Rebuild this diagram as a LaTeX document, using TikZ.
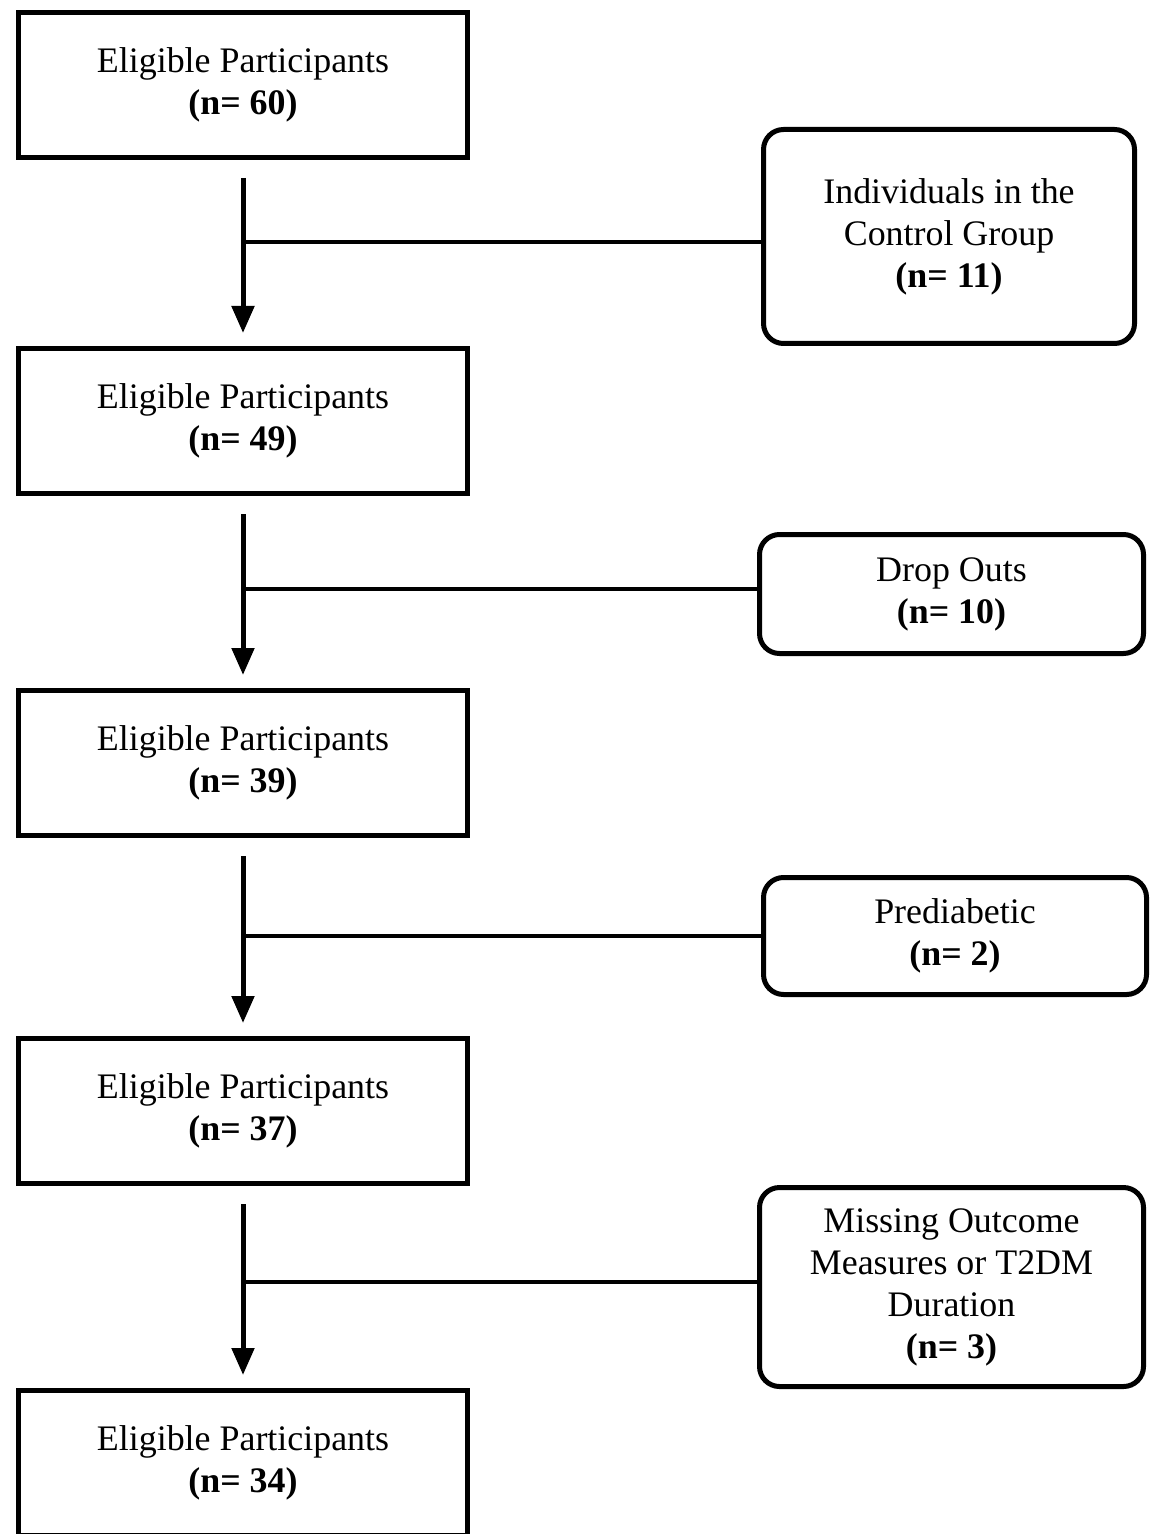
\documentclass[tikz,border=0pt]{standalone}
\usepackage{fontspec}
\setmainfont{Liberation Serif}
\usetikzlibrary{arrows.meta}

\begin{document}
\begin{tikzpicture}[x=0.5pt,y=-0.5pt,
  every node/.style={align=center,font=\fontsize{17.95pt}{21pt}\selectfont},
  elig/.style={draw,line width=2.5pt,minimum width=224.5pt,minimum height=72.5pt},
  excl/.style={draw,line width=2.5pt,rounded corners=10pt},
  flow/.style={line width=2.5pt,-{Triangle[length=13.5pt,width=11pt]},shorten <=9pt,shorten >=6.5pt},
  side/.style={line width=2pt}]
\useasboundingbox (0,0) rectangle (1154,1534);
% main column
\node[elig] (e1) at (243,85) {Eligible Participants\\\textbf{(n= 60)}};
\node[elig] (e2) at (243,421) {Eligible Participants\\\textbf{(n= 49)}};
\node[elig] (e3) at (243,763) {Eligible Participants\\\textbf{(n= 39)}};
\node[elig] (e4) at (243,1111) {Eligible Participants\\\textbf{(n= 37)}};
\node[elig] (e5) at (243,1463) {Eligible Participants\\\textbf{(n= 34)}};
% excluded
\node[excl,minimum width=185.5pt,minimum height=107pt] (r1) at (949,236.5) {Individuals in the\\Control Group\\\textbf{(n= 11)}};
\node[excl,minimum width=192pt,minimum height=59.5pt] (r2) at (951.5,594) {Drop Outs\\\textbf{(n= 10)}};
\node[excl,minimum width=191.5pt,minimum height=58.5pt] (r3) at (955,936) {Prediabetic\\\textbf{(n= 2)}};
\node[excl,minimum width=192pt,minimum height=99.5pt] (r4) at (951.5,1287) {Missing Outcome\\Measures or T2DM\\Duration\\\textbf{(n= 3)}};
\draw[flow] (e1) -- (e2);
\draw[flow] (e2) -- (e3);
\draw[flow] (e3) -- (e4);
\draw[flow] (e4) -- (e5);
\draw[side] ([yshift=-2.75pt]r1.west -| e1.south) -- ([yshift=-2.75pt]r1.west);
\draw[side] ([yshift=2.5pt]r2.west -| e2.south) -- ([yshift=2.5pt]r2.west);
\draw[side] (r3.west -| e3.south) -- (r3.west);
\draw[side] ([yshift=2.5pt]r4.west -| e4.south) -- ([yshift=2.5pt]r4.west);
\end{tikzpicture}
\end{document}
